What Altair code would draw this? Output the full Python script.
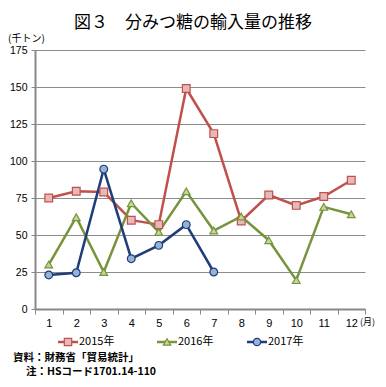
import altair as alt
import pandas as pd

months = list(range(1, 13))
v2015 = [75, 79.5, 79, 60, 57, 149, 118.5, 59.5, 77, 70, 76, 87]
v2016 = [30, 62, 25, 71.5, 52, 79.5, 53, 62.5, 46.5, 19.5, 69, 64]
v2017 = [23, 24.5, 94.5, 34, 43, 57, 25]
series = ["2015年", "2016年", "2017年"]
line_colors = ["#C0504D", "#77933C", "#1F3D7A"]
fill_colors = ["#E6B9B8", "#C3D69B", "#95B3D7"]
shapes = ["square", "triangle-up", "circle"]
y_ticks = [0, 25, 50, 75, 100, 125, 150, 175]
title_text = "図３　分みつ糖の輸入量の推移"
unit_text = "(千トン)"
month_unit = "(月)"
notes = ["資料：財務省「貿易統計」", "注：HSコード1701.14-110"]

rows = []
for s, vals in zip(series, [v2015, v2016, v2017]):
    for m, v in zip(months, vals):
        rows.append({"month": m, "value": v, "series": s})
df = pd.DataFrame(rows)

JP = "Noto Sans CJK JP"
NUM = "Liberation Sans"

W, H = 330, 259

xenc = alt.X("month:O", bandPosition=0.5,
             scale=alt.Scale(type="band", domain=months, paddingInner=0, paddingOuter=0),
             axis=alt.Axis(title=None, labelAngle=0, tickBand="extent", tickSize=5,
                           labelPadding=3, labelFont=NUM, labelFontSize=11,
                           labelColor="#000", domainColor="#888", domainWidth=2,
                           tickColor="#888", tickWidth=1, grid=False))
yenc = alt.Y("value:Q",
             scale=alt.Scale(domain=[0, 175], nice=False),
             axis=alt.Axis(title=None, values=y_ticks, tickSize=4, labelPadding=4,
                           labelFont=NUM, labelFontSize=10.5, labelColor="#000",
                           domainColor="#888", domainWidth=2, tickColor="#888",
                           gridColor="#8c8c8c", gridWidth=1.2))

base = alt.Chart(df)
lines = base.mark_line(strokeWidth=2.5).encode(
    x=xenc, y=yenc,
    color=alt.Color("series:N", scale=alt.Scale(domain=series, range=line_colors), legend=None),
    detail="series:N",
)
points = base.mark_point(filled=True, size=60, strokeWidth=1.2, opacity=1).encode(
    x=xenc, y=yenc,
    fill=alt.Fill("series:N", scale=alt.Scale(domain=series, range=fill_colors), legend=None),
    stroke=alt.Stroke("series:N", scale=alt.Scale(domain=series, range=line_colors), legend=None),
    shape=alt.Shape("series:N", scale=alt.Scale(domain=series, range=shapes), legend=None),
)

one = pd.DataFrame({"a": [0]})

def text(t, x, y, size, align="left", font=JP, weight="normal"):
    return alt.Chart(one).mark_text(text=t, align=align, baseline="middle", fontSize=size,
                                    font=font, fontWeight=weight, color="#000").encode(
        x=alt.value(x), y=alt.value(y))

layers = [lines, points]
layers.append(text(title_text, 158, -27, 17, align="center"))
layers.append(text(unit_text, -27, -11, 10))
layers.append(text(month_unit, 325, 272, 9))
layers.append(text(notes[0], -22, 308, 10.5, weight="bold"))
layers.append(text(notes[1], -9, 322, 10.5, weight="bold"))

leg_x = [23, 122, 212]
for s, lx, lc, fc, sh in zip(series, leg_x, line_colors, fill_colors, shapes):
    layers.append(alt.Chart(one).mark_rule(color=lc, strokeWidth=2.5).encode(
        x=alt.value(lx), x2=alt.value(lx + 20), y=alt.value(292)))
    layers.append(alt.Chart(one).mark_point(filled=True, fill=fc, stroke=lc, strokeWidth=1.2,
                                            shape=sh, size=55, opacity=1).encode(
        x=alt.value(lx + 10), y=alt.value(292)))
    layers.append(text(s, lx + 21, 292, 11))

chart = alt.layer(*layers).properties(
    width=W, height=H,
    autosize=alt.AutoSizeParams(type="none"),
    padding={"left": 27, "top": 42, "right": 13, "bottom": 70},
).configure_view(stroke=None)

chart.save("out.html", embed_options={"renderer": "svg", "actions": False})
